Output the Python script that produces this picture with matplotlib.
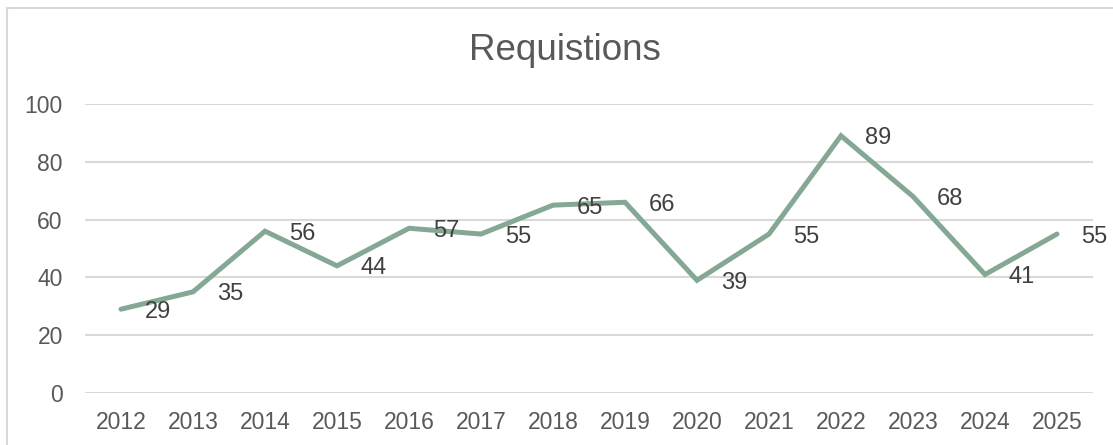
import matplotlib.pyplot as plt
from matplotlib.patches import Rectangle

plt.rcParams['font.family'] = ['Liberation Sans', 'DejaVu Sans']

years = ['2012', '2013', '2014', '2015', '2016', '2017', '2018',
         '2019', '2020', '2021', '2022', '2023', '2024', '2025']
requisitions = [29, 35, 56, 44, 57, 55, 65, 66, 39, 55, 89, 68, 41, 55]

fig = plt.figure(figsize=(11.13, 4.45), dpi=100)
ax = fig.add_axes([85 / 1113, 52 / 445, 1008 / 1113, 289 / 445])

x = list(range(len(years)))
ax.plot(x, requisitions, color='#84a894', lw=3.6, solid_capstyle='round',
        solid_joinstyle='miter', zorder=3)

for xi, v in zip(x, requisitions):
    ax.annotate(str(v), (xi, v), xytext=(17, 0), textcoords='offset points',
                ha='left', va='center_baseline', fontsize=17, color='#404040',
                zorder=4)

ax.set_xlim(-0.5, len(years) - 0.5)
ax.set_ylim(0, 100)
ax.set_xticks(x)
ax.set_xticklabels(years)
ax.set_yticks([0, 20, 40, 60, 80, 100])
ax.tick_params(axis='both', length=0, labelsize=16.5, colors='#595959')
ax.tick_params(axis='x', pad=13)
ax.tick_params(axis='y', pad=16)
ax.grid(axis='y', color='#d9d9d9', lw=1.5)
ax.set_axisbelow(True)
for s in ax.spines.values():
    s.set_visible(False)

fig.text(565 / 1113, 1 - 50 / 445, 'Requistions', ha='center', va='center',
         fontsize=26.5, color='#595959')

# chart border (cut off at right and bottom)
fig.add_artist(Rectangle((7 / 1113, -0.1), 2, 1.1 - 8 / 445,
                         transform=fig.transFigure, fill=False,
                         ec='#d9d9d9', lw=1.5))

fig.savefig('out.png', dpi=100)
